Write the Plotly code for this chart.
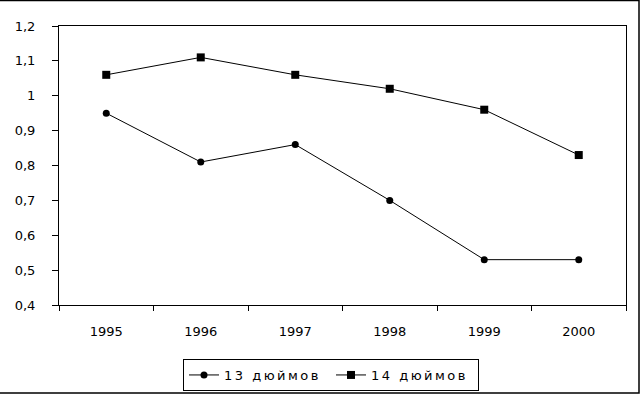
import plotly.graph_objects as go

years = ["1995", "1996", "1997", "1998", "1999", "2000"]
s13_name = "13 дюймов"
s13_values = [0.95, 0.81, 0.86, 0.70, 0.53, 0.53]
s14_name = "14 дюймов"
s14_values = [1.06, 1.11, 1.06, 1.02, 0.96, 0.83]
y_tickvals = [0.4, 0.5, 0.6, 0.7, 0.8, 0.9, 1.0, 1.1, 1.2]
y_ticktext = ["0,4", "0,5", "0,6", "0,7", "0,8", "0,9", "1", "1,1", "1,2"]

W, H = 641, 396
L, R, T, B = 59, 626, 26, 305

def spaced(name):
    return f"<span style='letter-spacing:2.5px'>{name}</span>"

fig = go.Figure()
fig.add_trace(go.Scatter(x=years, y=s13_values, name=spaced(s13_name), mode="lines+markers",
                         line=dict(color="black", width=1),
                         marker=dict(symbol="circle", size=7, color="black")))
fig.add_trace(go.Scatter(x=years, y=s14_values, name=spaced(s14_name), mode="lines+markers",
                         line=dict(color="black", width=1),
                         marker=dict(symbol="square", size=8, color="black")))

font = dict(family="DejaVu Sans, sans-serif", size=13, color="black")

fig.update_layout(
    width=W, height=H,
    margin=dict(l=L, r=W - R, t=T, b=H - B, pad=0, autoexpand=False),
    paper_bgcolor="white", plot_bgcolor="white",
    font=font,
    separators=", ",
    showlegend=True,
    legend=dict(orientation="h", xref="container", yref="container",
                x=183 / W, xanchor="left", y=1 - 359 / H, yanchor="top",
                bordercolor="black", borderwidth=1, bgcolor="white",
                font=dict(family="DejaVu Sans, sans-serif", size=13, color="black"),
                itemwidth=30, tracegroupgap=0, entrywidth=102, entrywidthmode="pixels"),
    xaxis=dict(type="category", showline=True, linecolor="black", linewidth=1,
               mirror=True, ticks="outside", ticklen=5, tickcolor="black",
               tickson="boundaries", showgrid=False, zeroline=False,
               ticklabelstandoff=14, range=[-0.5, 5.5]),
    yaxis=dict(range=[0.4, 1.2], tickvals=y_tickvals, ticktext=y_ticktext,
               showline=True, linecolor="black", linewidth=1, mirror=True,
               ticks="outside", ticklen=6, tickcolor="black",
               showgrid=False, zeroline=False, ticklabelstandoff=14),
)

def px_x(p):
    return (p - L) / (R - L)

def px_y(p):
    return (B - p) / (B - T)

# outer chart frame
fig.add_shape(type="rect", xref="paper", yref="paper",
              x0=px_x(-2), x1=px_x(639), y0=px_y(393), y1=px_y(0.5),
              line=dict(color="black", width=1.5), layer="below")

fig.write_html("out.html", config={"displayModeBar": False},
               post_script="document.body.style.margin='0';document.body.style.overflow='hidden';")
